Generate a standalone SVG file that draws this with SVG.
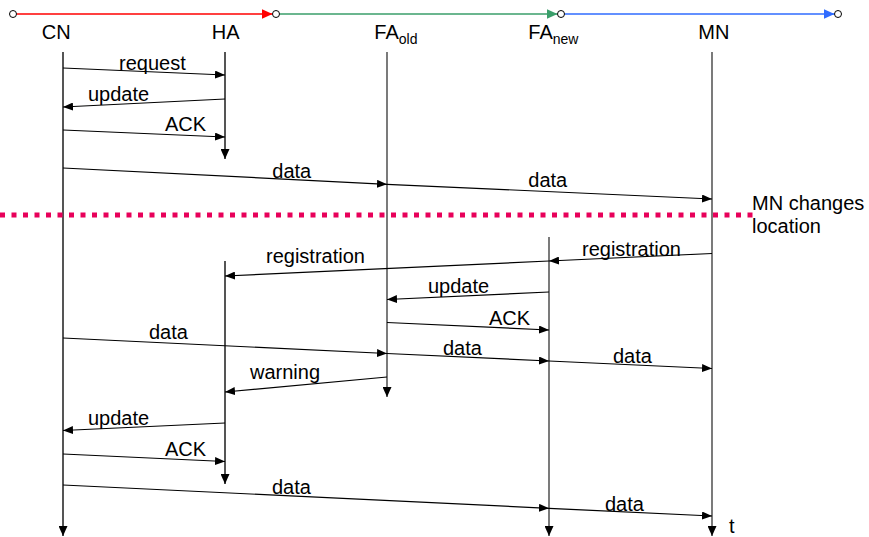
<svg xmlns="http://www.w3.org/2000/svg" width="869" height="537" viewBox="0 0 869 537">
  <defs>
    <style>
      text { font-family: "Liberation Sans", Arial, sans-serif; font-size: 20px; fill: #000; }
      .sub { font-size: 14px; }
      .life { stroke: #222; stroke-width: 1.2; fill: none; }
      .life.thick { stroke: #555; stroke-width: 2; }
      .msg { stroke: #000; stroke-width: 1.2; fill: none; marker-end: url(#arr); }
      .node-dot { fill: #fff; stroke: #000; stroke-width: 1; }
    </style>
    <marker id="arr" markerUnits="userSpaceOnUse" markerWidth="10" markerHeight="8" refX="10" refY="4" orient="auto">
      <path d="M0,0 L10,4 L0,8 z" fill="#000"/>
    </marker>
    <marker id="arrGray" markerUnits="userSpaceOnUse" markerWidth="10" markerHeight="9" refX="10" refY="4.5" orient="auto">
      <path d="M0,0 L10,4.5 L0,9 z" fill="#000"/>
    </marker>
    <marker id="arrRed" markerUnits="userSpaceOnUse" markerWidth="11" markerHeight="10" refX="11" refY="5" orient="auto">
      <path d="M0,0 L11,5 L0,10 z" fill="#ff0000"/>
    </marker>
    <marker id="arrGreen" markerUnits="userSpaceOnUse" markerWidth="11" markerHeight="10" refX="11" refY="5" orient="auto">
      <path d="M0,0 L11,5 L0,10 z" fill="#3a9e6a"/>
    </marker>
    <marker id="arrBlue" markerUnits="userSpaceOnUse" markerWidth="11" markerHeight="10" refX="11" refY="5" orient="auto">
      <path d="M0,0 L11,5 L0,10 z" fill="#2f6bff"/>
    </marker>
  </defs>

  <!-- movement path along the top -->
  <g id="movement">
    <line x1="16.5" y1="14" x2="272.5" y2="14" stroke="#ff0000" stroke-width="1.5" marker-end="url(#arrRed)"/>
    <line x1="279.5" y1="14" x2="557.5" y2="14" stroke="#3a9e6a" stroke-width="1.5" marker-end="url(#arrGreen)"/>
    <line x1="564.5" y1="14" x2="834.5" y2="14" stroke="#2f6bff" stroke-width="1.5" marker-end="url(#arrBlue)"/>
    <circle class="node-dot" cx="13" cy="14" r="3.5"/>
    <circle class="node-dot" cx="276" cy="14" r="3.5"/>
    <circle class="node-dot" cx="561" cy="14" r="3.5"/>
    <circle class="node-dot" cx="838" cy="14" r="3.5"/>
  </g>

  <!-- entities with their lifelines -->
  <g id="node-CN">
    <text x="41.7" y="39.3">CN</text>
    <line class="life thick" x1="63" y1="52" x2="63" y2="536" marker-end="url(#arrGray)"/>
  </g>
  <g id="node-HA">
    <text x="211.7" y="39.3">HA</text>
    <line class="life thick" x1="225" y1="52" x2="225" y2="159" marker-end="url(#arrGray)"/>
    <line class="life thick" x1="225" y1="261" x2="225" y2="484" marker-end="url(#arrGray)"/>
  </g>
  <g id="node-FAold">
    <text x="374.3" y="39.3">FA<tspan class="sub" dy="4.2">old</tspan></text>
    <line class="life" x1="387" y1="52" x2="387" y2="397" marker-end="url(#arrGray)"/>
  </g>
  <g id="node-FAnew">
    <text x="528.3" y="39.3">FA<tspan class="sub" dy="4.2">new</tspan></text>
    <line class="life" x1="549" y1="237" x2="549" y2="536" marker-end="url(#arrGray)"/>
  </g>
  <g id="node-MN">
    <text x="698.3" y="39.3">MN</text>
    <line class="life" x1="712" y1="52" x2="712" y2="536" marker-end="url(#arrGray)"/>
    <text x="729" y="532.7">t</text>
  </g>

  <!-- location change marker -->
  <g id="handover">
    <line x1="0" y1="215" x2="757" y2="215" stroke="#e8005a" stroke-width="5" stroke-dasharray="5 6.5"/>
    <text x="752" y="210">MN changes</text>
    <text x="752" y="233">location</text>
  </g>

  <!-- messages -->
  <g id="connectors">
    <line class="msg" x1="63" y1="68" x2="225" y2="75"/>
    <line class="msg" x1="225" y1="99" x2="63" y2="107"/>
    <line class="msg" x1="63" y1="130" x2="225" y2="137"/>
    <line class="msg" x1="63" y1="168" x2="387" y2="184.3"/>
    <line class="msg" x1="387" y1="184.3" x2="712" y2="199"/>
    <line class="msg" x1="712" y1="253.5" x2="549" y2="261"/>
    <line class="msg" x1="549" y1="261" x2="225" y2="276"/>
    <line class="msg" x1="549" y1="292" x2="387" y2="299.5"/>
    <line class="msg" x1="387" y1="322.5" x2="549" y2="330"/>
    <line class="msg" x1="63" y1="338" x2="387" y2="353.5"/>
    <line class="msg" x1="387" y1="353.5" x2="549" y2="361"/>
    <line class="msg" x1="549" y1="361" x2="712" y2="368.5"/>
    <line class="msg" x1="387" y1="377" x2="225" y2="392"/>
    <line class="msg" x1="225" y1="423" x2="63" y2="430.5"/>
    <line class="msg" x1="63" y1="454" x2="225" y2="461.5"/>
    <line class="msg" x1="63" y1="485" x2="549" y2="508.3"/>
    <line class="msg" x1="549" y1="508.3" x2="712" y2="516"/>
  </g>

  <!-- message labels -->
  <g id="labels">
    <text x="119" y="69.5">request</text>
    <text x="88" y="101">update</text>
    <text x="165" y="131">ACK</text>
    <text x="272.3" y="178">data</text>
    <text x="528.3" y="186.5">data</text>
    <text x="582" y="255.5">registration</text>
    <text x="266" y="263">registration</text>
    <text x="428" y="293">update</text>
    <text x="489" y="325">ACK</text>
    <text x="149" y="339">data</text>
    <text x="443" y="355">data</text>
    <text x="613" y="363">data</text>
    <text x="250" y="378.5">warning</text>
    <text x="88" y="425">update</text>
    <text x="165" y="455.5">ACK</text>
    <text x="272" y="494">data</text>
    <text x="605" y="510.5">data</text>
  </g>
</svg>
